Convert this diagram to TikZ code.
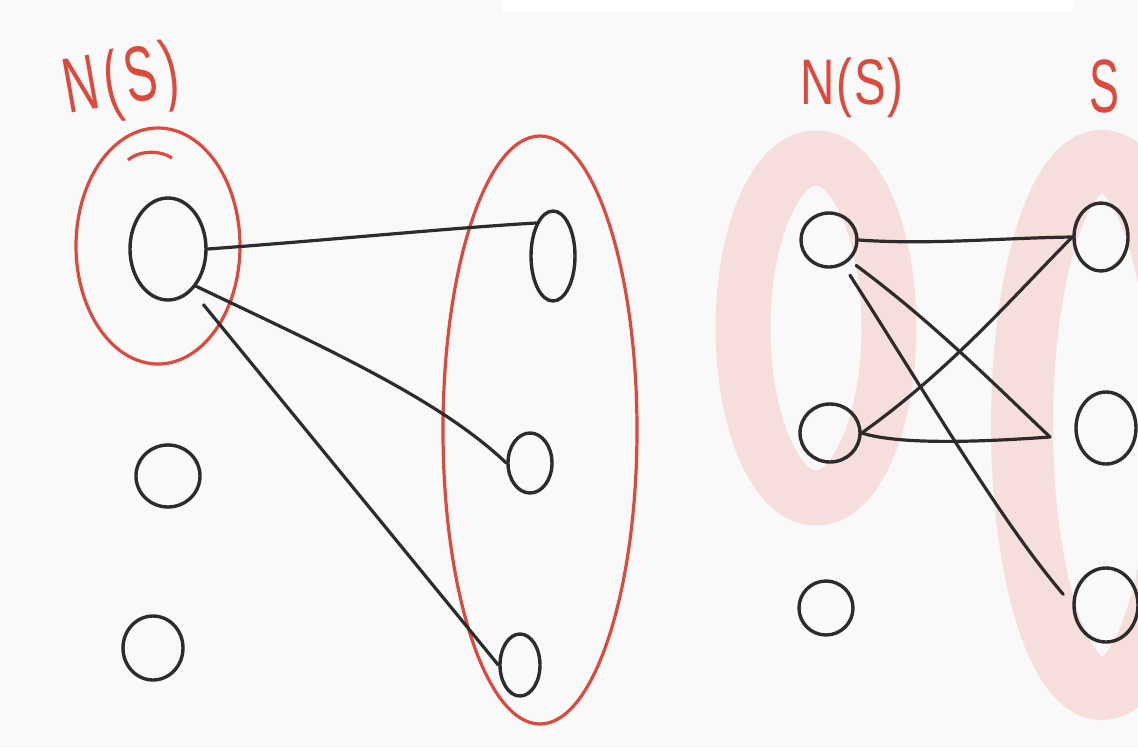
\documentclass[tikz,border=0pt]{standalone}
\usepackage{fontspec}
\setmainfont{Liberation Sans}
\usetikzlibrary{shapes.geometric}
\definecolor{bg}{HTML}{F9F9F9}
\definecolor{pen}{HTML}{2E2B2B}
\definecolor{redpen}{HTML}{DB4A3C}
\definecolor{pinkhl}{HTML}{F6DEDD}
\tikzset{
  vtx/.style={ellipse, draw=pen, line width=3.4pt, inner sep=0pt, minimum width=#1},
  edge/.style={draw=pen, line width=3.2pt, line cap=round},
  ring/.style={draw=redpen, line width=3.2pt},
  hl/.style={draw=pinkhl, line width=#1},
  lbl/.style={text=redpen, font=\fontsize{56}{56}\selectfont, inner sep=0pt}
}
\begin{document}
\begin{tikzpicture}[x=1pt,y=-1pt]
\useasboundingbox (0,0) rectangle (1138,748);
\fill[bg] (0,0) rectangle (1138,748);
\fill[white] (502,0) rectangle (1073,12);

% pink highlights (right graph)
\begin{scope}
\clip (0,0) rectangle (1138,748);
\draw[hl=55pt] (816,328) ellipse [x radius=73, y radius=170];
\draw[hl=62pt] (1102,425) ellipse [x radius=80, y radius=264];
\end{scope}

% labels
\node[lbl, rotate=10] (lN1) at (122,84) {\scalebox{0.85}[1.4]{\addfontfeature{LetterSpace=12}N(S)}};
\node[lbl] (lN2) at (852,88) {\scalebox{0.85}[1.15]{\addfontfeature{LetterSpace=4}N(S)}};
\node[lbl] (lS) at (1104,86) {\scalebox{0.8}[1.35]{S}};

% left graph vertices
\node[vtx=76pt, minimum height=102pt] (A1) at (168,249) {};
\node[vtx=64pt, minimum height=62pt] (A2) at (168,476) {};
\node[vtx=60pt, minimum height=64pt] (A3) at (153,648) {};
\node[vtx=44pt, minimum height=90pt] (B1) at (553,256) {};
\node[vtx=44pt, minimum height=60pt] (B2) at (530,463) {};
\node[vtx=40pt, minimum height=62pt] (B3) at (520,665) {};

% red rings
\draw[ring] (158,246) ellipse [x radius=82, y radius=118];
\draw[ring] (128,160) .. controls (140,150) and (160,150) .. (172,158);
\draw[ring] (540,430) ellipse [x radius=97, y radius=294];

% left graph edges
\draw[edge] (A1.east) .. controls (330,240) and (450,228) .. (B1.north west);
\draw[edge] (A1.south east) .. controls (330,350) and (440,400) .. (B2.west);
\draw[edge, shorten <=18pt] (A1.-60) -- (B3.west);

% right graph vertices
\node[vtx=56pt, minimum height=54pt] (C1) at (829,240) {};
\node[vtx=60pt, minimum height=58pt] (C2) at (830,433) {};
\node[vtx=54pt, minimum height=54pt] (C3) at (826,608) {};
\node[vtx=54pt, minimum height=68pt] (D1) at (1101,237) {};
\node[vtx=60pt, minimum height=72pt] (D2) at (1106,428) {};
\node[vtx=64pt, minimum height=74pt] (D3) at (1106,605) {};

\coordinate (J) at (1050,437);

% right graph edges
\draw[edge] (C1.east) .. controls (930,245) and (1000,238) .. (D1.west);
\draw[edge, shorten <=8pt] (C1.-45) .. controls (930,320) and (990,380) .. (J);
\draw[edge] (J) .. controls (980,442) and (900,445) .. (C2.east);
\draw[edge] (C2.east) .. controls (950,370) and (1010,300) .. (D1.west);
\draw[edge, shorten <=12pt, shorten >=14pt] (C1.-60) .. controls (930,400) and (1000,520) .. (D3.west);
\end{tikzpicture}
\end{document}
